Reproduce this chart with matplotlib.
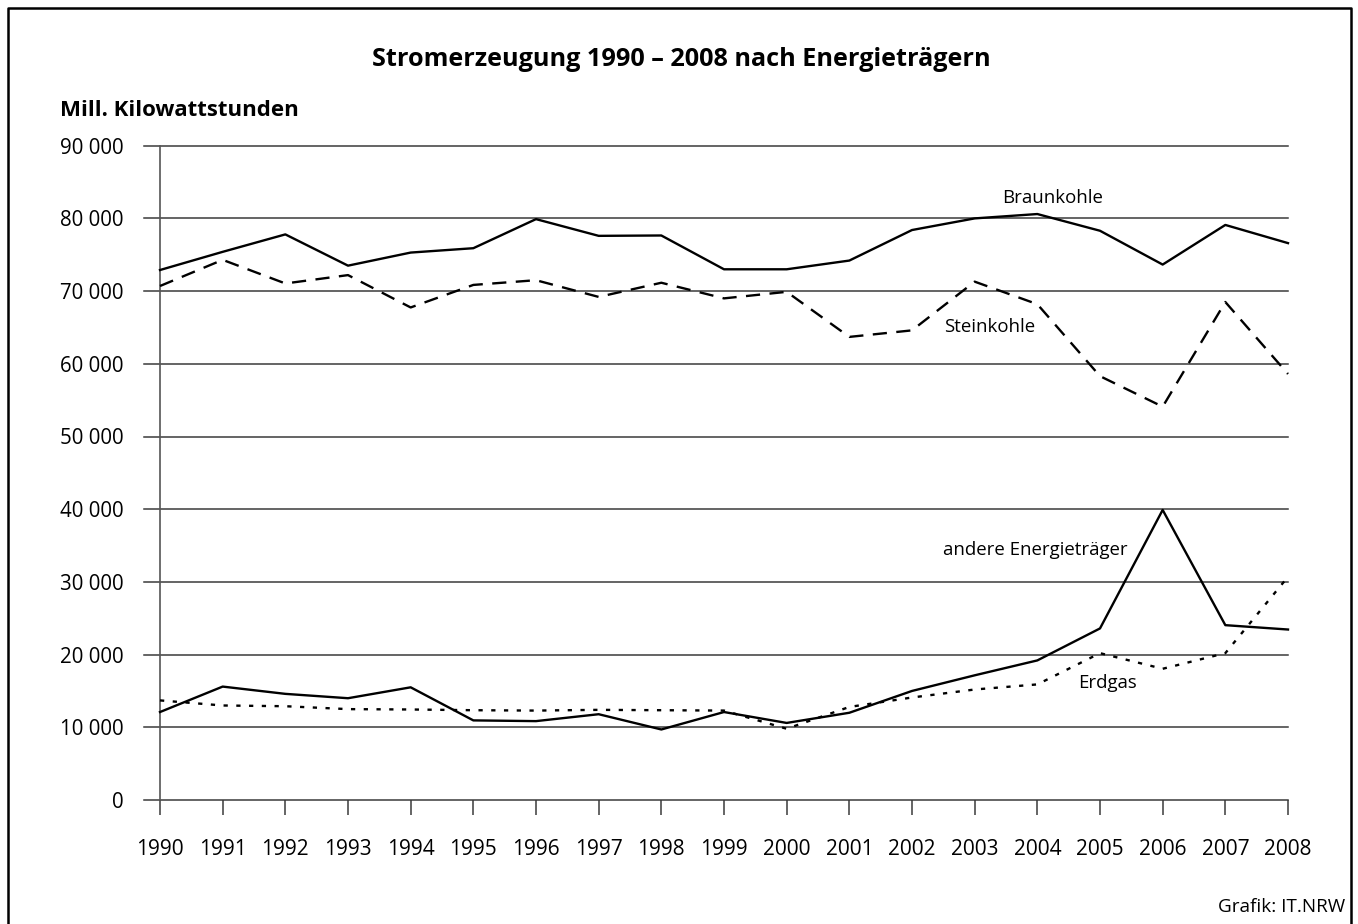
import matplotlib
matplotlib.use("Agg")
import matplotlib.pyplot as plt
from matplotlib.lines import Line2D

years = list(range(1990, 2009))
braunkohle = [72900, 75400, 77800, 73500, 75300, 75900, 79900, 77600, 77650, 73000,
              73000, 74200, 78400, 80000, 80600, 78300, 73650, 79100, 76600]
steinkohle = [70700, 74300, 71050, 72200, 67750, 70850, 71500, 69200, 71150, 69000,
              69900, 63700, 64600, 71300, 68200, 58300, 54100, 68500, 58600]
andere = [12100, 15600, 14600, 14000, 15500, 10950, 10850, 11800, 9700, 12100,
          10600, 12000, 15000, 17150, 19200, 23600, 39900, 24050, 23450]
erdgas = [13700, 13000, 12900, 12500, 12450, 12350, 12300, 12400, 12350, 12300,
          9800, 12800, 14100, 15200, 15900, 20200, 18050, 20200, 30700]
y_ticks = list(range(0, 90001, 10000))
y_tick_labels = [f"{v:,}".replace(",", " ") for v in y_ticks]

plt.rcParams['font.family'] = ['Open Sans', 'DejaVu Sans']

W, H = 1358, 924
fig = plt.figure(figsize=(W / 100, H / 100), dpi=100)

# border (top, left, right; open at the bottom)
bx0, bx1, by0 = 8 / W, 1351 / W, 1 - 8 / H
fig.lines.append(Line2D([bx0, bx0, bx1, bx1], [0, by0, by0, 0],
                        transform=fig.transFigure, color='black', lw=1.8))

left_px, right_px, top_px, bottom_px = 160, 1288, 145.7, 800
ax = fig.add_axes([left_px / W, (H - bottom_px) / H,
                   (right_px - left_px) / W, (bottom_px - top_px) / H])
ax.set_xlim(1990, 2008)
ax.set_ylim(0, 90000)

gridc = '#3a3a3a'
for v in y_ticks:
    ax.plot([-16 / (right_px - left_px), 1], [v, v], color=gridc, lw=1.1,
            transform=ax.get_yaxis_transform(), clip_on=False, zorder=1)

for s in ['top', 'right', 'bottom']:
    ax.spines[s].set_visible(False)
ax.spines['left'].set_color('#555555')
ax.spines['left'].set_linewidth(1.2)

ax.set_yticks(y_ticks)
ax.set_yticklabels(y_tick_labels)
ax.tick_params(axis='y', length=0, pad=26, labelsize=14.8, colors='black')
ax.set_xticks(years)
ax.set_xticklabels([str(y) for y in years])
ax.tick_params(axis='x', direction='out', length=11, width=1.1, color=gridc,
               pad=17, labelsize=15)

lw = 1.7
ax.plot(years, braunkohle, color='black', lw=lw, zorder=3, clip_on=False)
ax.plot(years, steinkohle, color='black', lw=lw, dashes=(6, 4), zorder=3, clip_on=False)
ax.plot(years, andere, color='black', lw=lw, zorder=3, clip_on=False)
ax.plot(years, erdgas, color='black', lw=lw, dashes=(1.8, 3.6), zorder=3, clip_on=False)

def px(x, y):
    return x / W, 1 - y / H

lab = dict(fontsize=13.4, ha='center', va='center', transform=fig.transFigure)
fig.text(*px(1053, 198), 'Braunkohle', **lab)
fig.text(*px(990, 327), 'Steinkohle', **lab)
fig.text(*px(1035, 550), 'andere Energieträger', **lab)
fig.text(*px(1107, 683), 'Erdgas', **lab)

fig.text(*px(681, 60), 'Stromerzeugung 1990 – 2008 nach Energieträgern',
         fontsize=18.2, fontweight='bold', ha='center', va='center')
fig.text(*px(60, 110), 'Mill. Kilowattstunden', fontsize=16, fontweight='bold',
         ha='left', va='center')
fig.text(*px(1345, 907), 'Grafik: IT.NRW', fontsize=13.6, ha='right', va='center')

fig.savefig('out.png', dpi=100)
